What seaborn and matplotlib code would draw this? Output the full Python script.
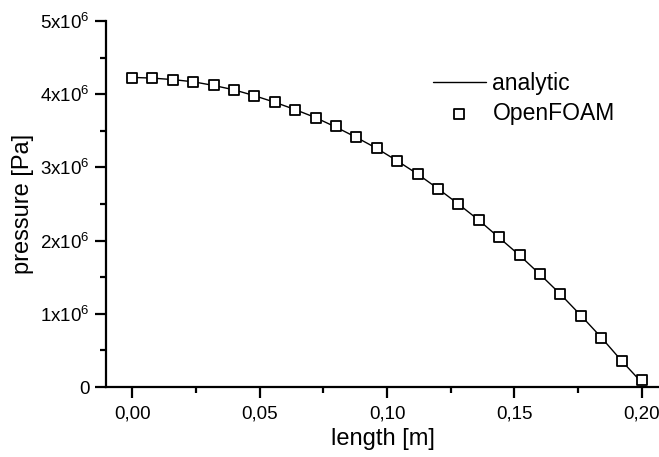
import numpy as np
import pandas as pd
import matplotlib
matplotlib.use('Agg')
import matplotlib.pyplot as plt
import seaborn as sns
from matplotlib.ticker import MultipleLocator, FuncFormatter

# values
length_m = [0.000, 0.008, 0.016, 0.024, 0.032, 0.040, 0.048, 0.056, 0.064,
            0.072, 0.080, 0.088, 0.096, 0.104, 0.112, 0.120, 0.128, 0.136,
            0.144, 0.152, 0.160, 0.168, 0.176, 0.184, 0.192, 0.200]
openfoam_p = [4.22, 4.22, 4.20, 4.17, 4.12, 4.06, 3.98, 3.89, 3.79,
              3.68, 3.56, 3.41, 3.26, 3.09, 2.91, 2.71, 2.50, 2.28,
              2.05, 1.80, 1.54, 1.27, 0.97, 0.67, 0.35, 0.10]
analytic_p = [4.23, 4.22, 4.20, 4.17, 4.12, 4.06, 3.98, 3.89, 3.79,
              3.68, 3.55, 3.41, 3.26, 3.09, 2.91, 2.71, 2.50, 2.28,
              2.04, 1.80, 1.54, 1.27, 0.98, 0.68, 0.36, 0.06]

df_analytic = pd.DataFrame({'length': length_m,
                            'pressure': np.array(analytic_p) * 1e6})
df_foam = pd.DataFrame({'length': length_m,
                        'pressure': np.array(openfoam_p) * 1e6})

sns.set_style('ticks', {'text.color': 'black', 'axes.labelcolor': 'black',
                        'xtick.color': 'black', 'ytick.color': 'black',
                        'axes.edgecolor': 'black'})
plt.rcParams['font.family'] = ['Liberation Sans', 'DejaVu Sans']
plt.rcParams['mathtext.fontset'] = 'custom'
plt.rcParams['mathtext.rm'] = 'Liberation Sans'

fig = plt.figure(figsize=(6.59, 4.57), dpi=100)
ax = fig.add_axes([0.161, 0.153, 0.839, 0.801])

sns.lineplot(data=df_analytic, x='length', y='pressure', color='black',
             linewidth=1.0, label='analytic', ax=ax)
sns.scatterplot(data=df_foam, x='length', y='pressure', marker='s', s=55,
                facecolor='white', edgecolor='black', linewidth=1.3,
                label='OpenFOAM', zorder=3, ax=ax)

ax.set_xlim(-0.0102, 0.2067)
ax.set_ylim(0, 5e6)
ax.xaxis.set_major_locator(MultipleLocator(0.05))
ax.xaxis.set_minor_locator(MultipleLocator(0.025))
ax.yaxis.set_major_locator(MultipleLocator(1e6))
ax.yaxis.set_minor_locator(MultipleLocator(0.5e6))
ax.xaxis.set_major_formatter(FuncFormatter(lambda v, p: f'{v:.2f}'.replace('.', ',')))
ax.yaxis.set_major_formatter(FuncFormatter(
    lambda v, p: '0' if v == 0 else r'$\mathregular{%dx10^6}$' % round(v / 1e6)))

sns.despine(ax=ax)
for s in ['left', 'bottom']:
    ax.spines[s].set_linewidth(1.6)
ax.tick_params(which='major', direction='out', length=8, width=1.6,
               labelsize=13.5, color='black', labelcolor='black')
ax.tick_params(which='minor', direction='out', length=4, width=1.6, color='black')
ax.tick_params(axis='x', pad=5)
ax.tick_params(axis='y', pad=4)

ax.set_xlabel('length [m]', fontsize=17, labelpad=4, color='black')
ax.set_ylabel('pressure [Pa]', fontsize=17, labelpad=4, color='black')

leg = ax.legend(loc='upper left', bbox_to_anchor=(0.562, 0.905), frameon=False,
                fontsize=16.5, handlelength=2.3, handletextpad=0.3,
                labelspacing=0.3, borderpad=0.2)
for t in leg.get_texts():
    t.set_color('black')

plt.savefig('out.png', dpi=100)
